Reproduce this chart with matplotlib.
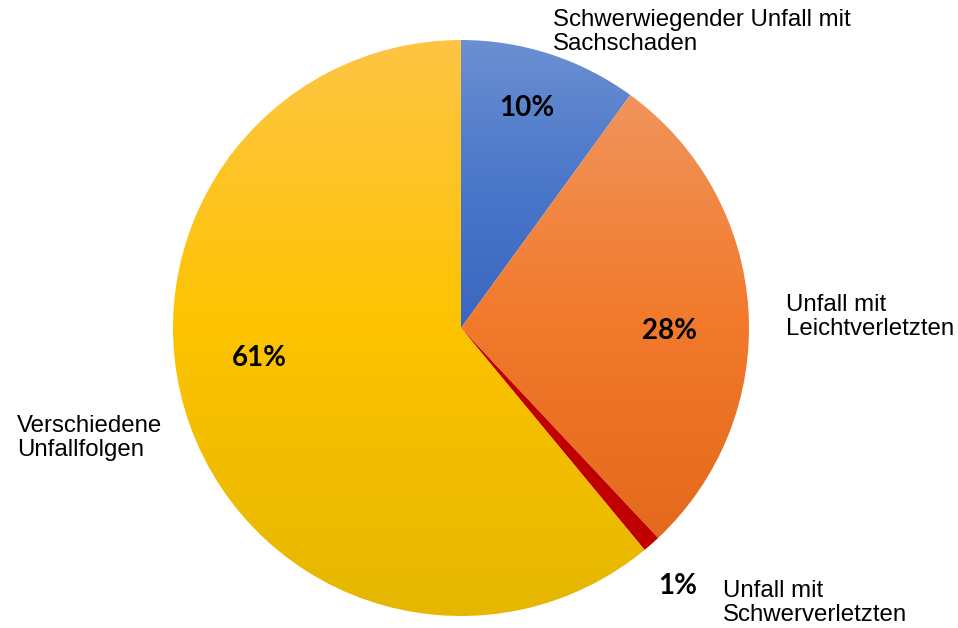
import numpy as np
import matplotlib.pyplot as plt
from matplotlib.colors import LinearSegmentedColormap

labels = ['Schwerwiegender Unfall mit\nSachschaden', 'Unfall mit\nLeichtverletzten',
          'Unfall mit\nSchwerverletzten', 'Verschiedene\nUnfallfolgen']
shares = [10, 28, 1, 61]
pct_labels = ['10%', '28%', '1%', '61%']

# light top -> base -> darker bottom, like the office gradient fill
gradients = [
    ['#6b8fd2', '#4a77c9', '#3a66c0'],
    ['#f0945c', '#f27a2c', '#e4691c'],
    ['#c00000', '#c00000', '#c00000'],
    ['#fec545', '#fdc300', '#e5b700'],
]

W, H = 958, 628
fig = plt.figure(figsize=(W / 100, H / 100), dpi=100)
ax = fig.add_axes([0, 0, 1, 1])
ax.set_aspect('equal')

cx, cy, r = 461, H - 328, 288
wedges, _ = ax.pie(shares, center=(cx, cy), radius=r, startangle=90,
                   counterclock=False, frame=True)

grad = np.linspace(0, 1, 256).reshape(-1, 1)
for w, cols in zip(wedges, gradients):
    w.set_facecolor('none')
    w.set_edgecolor('none')
    bb = w.get_path().get_extents(w.get_transform() - ax.transData)
    cmap = LinearSegmentedColormap.from_list('g', cols)
    im = ax.imshow(grad, cmap=cmap, aspect='auto', origin='upper',
                   extent=[bb.x0, bb.x1, bb.y0, bb.y1], zorder=1)
    im.set_clip_path(w)
    w.set_zorder(0)
ax.set_xlim(0, W)
ax.set_ylim(0, H)
ax.axis('off')

# percentage labels inside / next to slices
pct_pos = [(527, 108), (670, 331), (678, 586), (259, 358)]
for t, (x, y) in zip(pct_labels, pct_pos):
    ax.text(x, H - y, t, ha='center', va='center', fontsize=20,
            fontweight='bold', family='Lato', zorder=3)

# category labels
lab_pos = [(553, 32), (786, 317), (723, 603), (17, 438)]
for t, (x, y) in zip(labels, lab_pos):
    ax.text(x, H - y, t, ha='left', va='center', fontsize=17.3,
            family='Liberation Sans', linespacing=1.15, zorder=3)

fig.savefig('out.png', dpi=100)
